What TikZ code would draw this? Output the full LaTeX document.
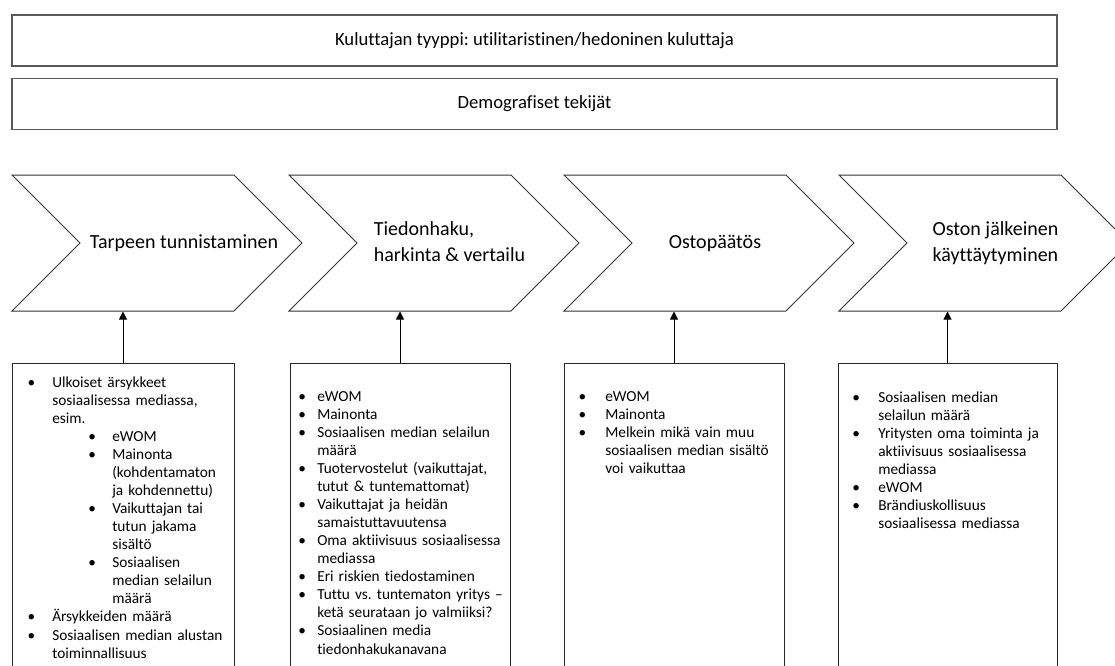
\documentclass[tikz,border=0pt]{standalone}
\usepackage{fontspec}
\setmainfont{Carlito}[Ligatures=CommonOff]
\usepackage{enumitem}
\usetikzlibrary{arrows.meta, positioning, shapes.symbols}

\setlist[itemize]{nosep, label=\textbullet, align=left, labelwidth=7pt}

\begin{document}
\frenchspacing
\begin{tikzpicture}[
  x=0.75pt, y=-0.75pt,
  band/.style={draw=black!65, line width=0.9pt, minimum width=783.75pt, minimum height=38.25pt, font=\fontsize{14}{17}\selectfont},
  phase/.style={draw=black!80, line width=0.75pt, signal, signal from=west, signal to=east, signal pointer angle=90, minimum width=217.5pt, minimum height=102pt, inner sep=0pt},
  phasetext/.style={align=left, inner sep=0pt, font=\fontsize{15}{19.5}\selectfont},
  factor/.style={draw=black!85, line width=0.75pt, minimum height=255pt, anchor=north},
  factortext/.style={anchor=base west, inner sep=0pt, text width=160pt, align=left, font=\fontsize{11.5}{13.55}\selectfont},
  >={Triangle[length=6pt, width=6pt]}
]
\clip (0,0) rectangle (1115,665);
\node[band] (tyyppi) at (534.5,40.5) {Kuluttajan tyyppi: utilitaristinen/hedoninen kuluttaja};
\node[band, below=8.25pt of tyyppi] (demo) {Demografiset tekijät};

% ostoprosessin vaiheet
\node[phase] (chev1) at (157,243) {};
\node[phase] (chev2) at (434,243) {};
\node[phase] (chev3) at (709,243) {};
\node[phase] (chev4) at (984,243) {};
\node[phasetext] (lab1) at (184,243) {Tarpeen tunnistaminen};
\node[phasetext] (lab2) at (449.5,242) {Tiedonhaku,\\harkinta \& vertailu};
\node[phasetext] (lab3) at (715,243) {Ostopäätös};
\node[phasetext] (lab4) at (995.5,243) {Oston jälkeinen\\käyttäytyminen};

% vaikuttavat tekijät
\node[factor, minimum width=166.5pt] (box1) at (123,363) {};
\node[factor, minimum width=165pt] (box2) at (400,363) {};
\node[factor, minimum width=165pt] (box3) at (674,363) {};
\node[factor, minimum width=164.25pt] (box4) at (947.5,363) {};

\node[factortext] (list1) at (30,369) {%
\begin{itemize}[leftmargin=16.5pt, labelsep=9.5pt, labelwidth=9pt]
\item Ulkoiset ärsykkeet\newline sosiaalisessa mediassa,\newline esim.
  \begin{itemize}[leftmargin=45pt, labelsep=9.5pt, labelwidth=8.5pt]
  \item eWOM
  \item Mainonta\newline (kohdentamaton\newline ja kohdennettu)
  \item Vaikuttajan tai\newline tutun jakama\newline sisältö
  \item Sosiaalisen\newline median selailun\newline määrä
  \end{itemize}
\item Ärsykkeiden määrä
\item Sosiaalisen median alustan\newline toiminnallisuus
\end{itemize}};
\node[factortext] (list2) at (302,383) {%
\begin{itemize}[leftmargin=11.25pt, labelsep=4.25pt, labelwidth=10pt]
\item eWOM
\item Mainonta
\item Sosiaalisen median selailun\newline määrä
\item Tuotervostelut (vaikuttajat,\newline tutut \& tuntemattomat)
\item Vaikuttajat ja heidän\newline samaistuttavuutensa
\item Oma aktiivisuus sosiaalisessa\newline mediassa
\item Eri riskien tiedostaminen
\item Tuttu vs. tuntematon yritys --\newline ketä seurataan jo valmiiksi?
\item Sosiaalinen media\newline tiedonhakukanavana
\end{itemize}};
\node[factortext] (list3) at (585,383) {%
\begin{itemize}[leftmargin=15pt, labelsep=8pt, labelwidth=12pt]
\item eWOM
\item Mainonta
\item Melkein mikä vain muu\newline sosiaalisen median sisältö\newline voi vaikuttaa
\end{itemize}};
\node[factortext] (list4) at (858,384) {%
\begin{itemize}[leftmargin=15pt, labelsep=8pt, labelwidth=11.5pt]
\item Sosiaalisen median\newline selailun määrä
\item Yritysten oma toiminta ja\newline aktiivisuus sosiaalisessa\newline mediassa
\item eWOM
\item Brändiuskollisuus\newline sosiaalisessa mediassa
\end{itemize}};

\draw[->, line width=0.75pt] (box1.north) -- (box1.north |- chev1.south);
\draw[->, line width=0.75pt] (box2.north) -- (box2.north |- chev2.south);
\draw[->, line width=0.75pt] (box3.north) -- (box3.north |- chev3.south);
\draw[->, line width=0.75pt] (box4.north) -- (box4.north |- chev4.south);
\end{tikzpicture}
\end{document}
